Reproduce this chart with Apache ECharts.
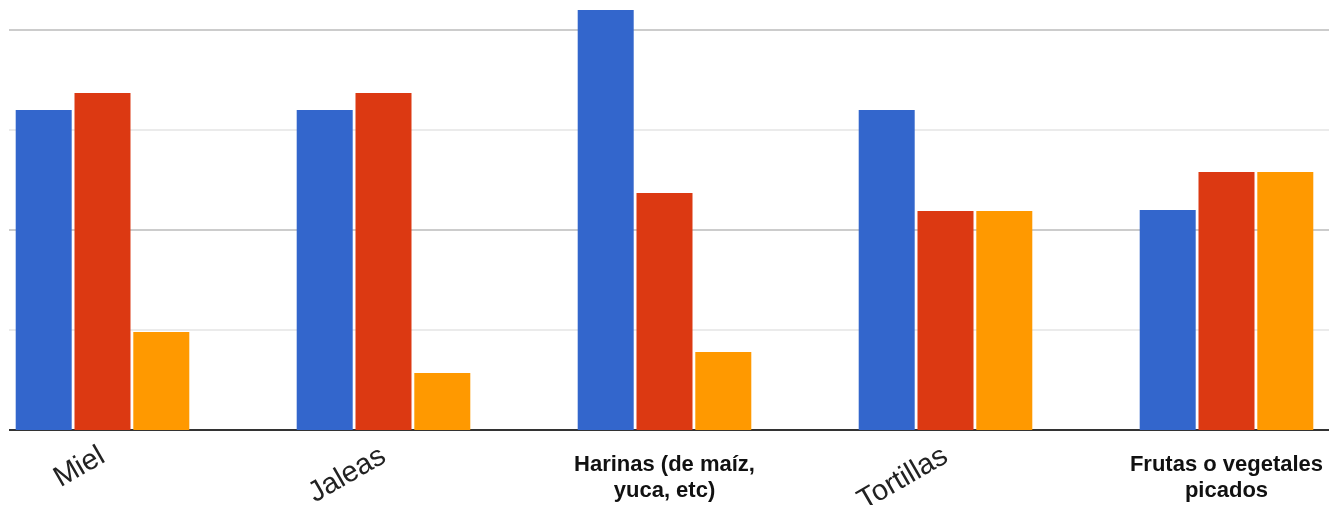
<!DOCTYPE html>
<html>
<head>
<meta charset="utf-8">
<script src="https://cdn.jsdelivr.net/npm/echarts@6/dist/echarts.min.js"></script>
<style>
  html, body { margin: 0; padding: 0; background: #fff; overflow: hidden; width: 1329px; height: 505px; position: relative; }
  /* plot area extends past the visible frame on the left, right and top */
  #chart { position: absolute; left: -38px; top: -170px; width: 1405px; height: 675px; }
</style>
</head>
<body>
<div id="chart"></div>
<script>
// Product categories (long names wrap onto two lines)
const categories = ['Miel', 'Jaleas', 'Harinas (de maíz,\nyuca, etc)', 'Tortillas', 'Frutas o vegetales\npicados'];

// Values per series
const seriesA = [16, 16, 21, 16, 11];
const seriesB = [16.85, 16.85, 11.85, 10.95, 12.9];
const seriesC = [4.9, 2.85, 3.9, 10.95, 12.9];

const colors = ['#3366cc', '#dc3912', '#ff9900'];
const fontFamily = '"Liberation Sans", Arial, sans-serif';

const isWrapped = v => v.indexOf('\n') >= 0;

const chart = echarts.init(document.getElementById('chart'), null, { renderer: 'canvas', width: 1405, height: 675 });

chart.setOption({
  animation: false,
  backgroundColor: '#ffffff',
  grid: { left: 0, right: 0, top: 0, bottom: 75, containLabel: false, outerBoundsMode: 'none' },
  xAxis: [
    {
      type: 'category',
      data: categories,
      position: 'bottom',
      axisLine: { show: true, lineStyle: { color: '#333333', width: 2 } },
      axisTick: { show: false },
      axisLabel: {
        interval: 0,
        rotate: 30,
        margin: 24,
        fontSize: 29,
        color: '#222222',
        fontFamily: fontFamily,
        formatter: v => (isWrapped(v) ? '' : v)
      },
      splitLine: { show: false }
    },
    {
      type: 'category',
      data: categories,
      position: 'bottom',
      axisLine: { show: false },
      axisTick: { show: false },
      axisLabel: {
        interval: 0,
        rotate: 0,
        margin: 22,
        fontSize: 22,
        lineHeight: 26,
        fontWeight: 'bold',
        color: '#111111',
        fontFamily: fontFamily,
        formatter: v => (isWrapped(v) ? v : '')
      },
      splitLine: { show: false }
    }
  ],
  yAxis: {
    type: 'value',
    min: 0,
    max: 30,
    interval: 10,
    axisLine: { show: false },
    axisTick: { show: false },
    axisLabel: { show: false },
    splitLine: { show: true, lineStyle: { color: '#cccccc', width: 2 } },
    minorTick: { show: false, splitNumber: 2 },
    minorSplitLine: { show: true, lineStyle: { color: '#ebebeb', width: 2 } }
  },
  graphic: [
    {
      type: 'rect',
      left: 0,
      top: 170,
      z: 100,
      shape: { width: 47, height: 433 },
      style: { fill: '#ffffff' }
    }
  ],
  series: [
    { type: 'bar', data: seriesA, barWidth: 56, barGap: '5%', itemStyle: { color: colors[0] } },
    { type: 'bar', data: seriesB, barWidth: 56, barGap: '5%', itemStyle: { color: colors[1] } },
    { type: 'bar', data: seriesC, barWidth: 56, barGap: '5%', itemStyle: { color: colors[2] } }
  ]
});
</script>
</body>
</html>
